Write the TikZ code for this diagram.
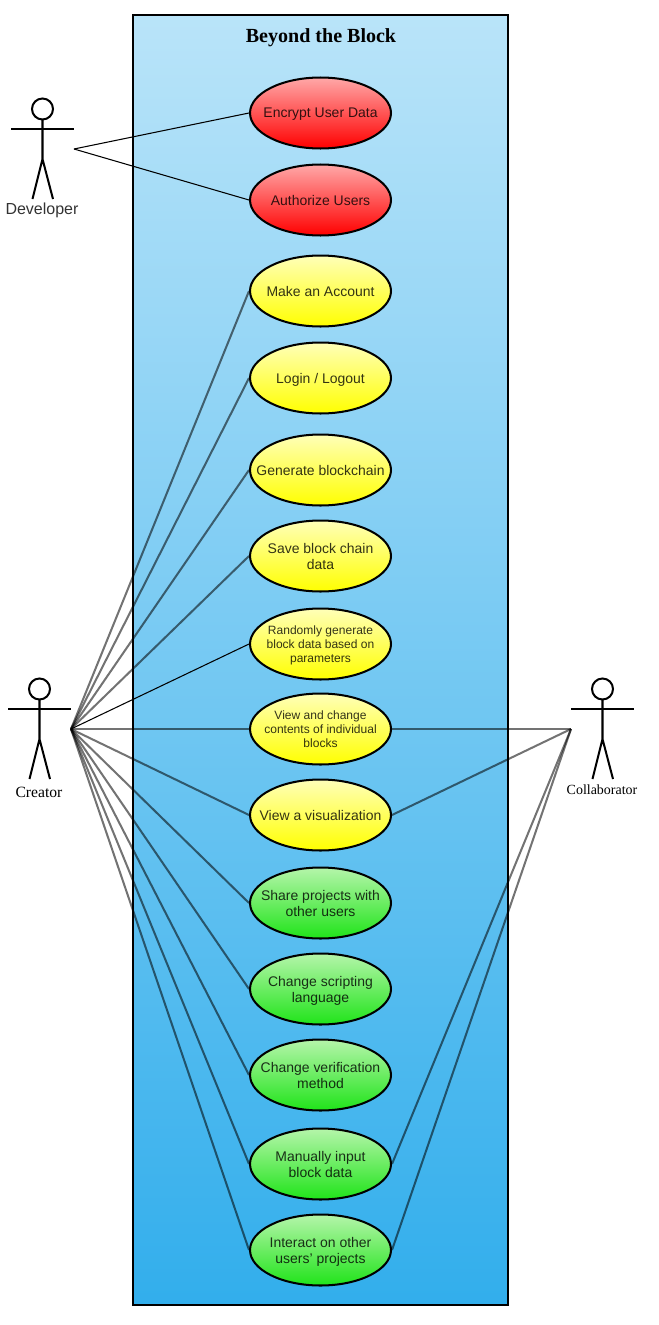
\documentclass[tikz,border=0pt]{standalone}
\usepackage{fontspec}
\setmainfont{Liberation Serif}
\setsansfont{Liberation Sans}
\usetikzlibrary{backgrounds,shapes.geometric}
\definecolor{boxtop}{HTML}{B9E4F9}
\definecolor{boxbottom}{HTML}{32AEEC}
\definecolor{greentop}{HTML}{B5F5AA}
\definecolor{greenbottom}{HTML}{20E41A}
\definecolor{redtop}{HTML}{FFA8A8}
\definecolor{yellowtop}{HTML}{FFFFB8}
\tikzset{
  usecase/.style={ellipse,draw=black,line width=1.15pt,minimum width=2.82cm,minimum height=1.42cm,
    inner sep=-1cm,text depth=0pt,align=center,text=black,text opacity=0.8,font=\sffamily\fontsize{7.95}{9.1}\selectfont},
  small/.style={font=\sffamily\fontsize{6.85}{8}\selectfont},
  redcase/.style={usecase,top color=redtop,bottom color=red},
  yellowcase/.style={usecase,top color=yellowtop,bottom color=yellow},
  greencase/.style={usecase,top color=greentop,bottom color=greenbottom},
  link/.style={line width=1.15pt,draw=black,opacity=0.55},
  thinlink/.style={line width=0.6pt,draw=black},
  actor/.pic={
    \draw[line width=1.15pt] (0,-20) circle (10.5);
    \draw[line width=1.15pt] (-31.5,0) -- (31.5,0);
    \draw[line width=1.15pt] (0,-9.5) -- (0,30) (-10,70) -- (0,30) -- (10.5,70);
  }
}
\begin{document}
\begin{tikzpicture}[x=0.02cm,y=-0.02cm]
\useasboundingbox (0,0) rectangle (659,1325);
% the system box
\node (title) [font=\bfseries\fontsize{11.4}{13}\selectfont] at (321,38) {Beyond the Block};
\begin{scope}[on background layer]
\node (system) [draw=black,line width=1.15pt,top color=boxtop,bottom color=boxbottom,
  minimum width=7.5cm,minimum height=25.8cm,inner sep=0pt] at (320.5,660) {};
\end{scope}
% use cases
\node (u1) [redcase] at (320.5,113) {Encrypt User Data};
\node (u2) [redcase] at (320.5,200) {Authorize Users};
\node (u3) [yellowcase] at (320.5,291) {Make an Account};
\node (u4) [yellowcase] at (320.5,378) {Login / Logout};
\node (u5) [yellowcase] at (320.5,470) {Generate blockchain};
\node (u6) [yellowcase] at (320.5,556) {Save block chain\\data};
\node (u7) [yellowcase,small] at (320.5,644) {Randomly generate\\block data based on\\parameters};
\node (u8) [yellowcase,small] at (320.5,729) {View and change\\contents of individual\\blocks};
\node (u9) [yellowcase] at (320.5,815) {View a visualization};
\node (u10) [greencase] at (320.5,903) {Share projects with\\other users};
\node (u11) [greencase] at (320.5,989) {Change scripting\\language};
\node (u12) [greencase] at (320.5,1075) {Change verification\\method};
\node (u13) [greencase] at (320.5,1164) {Manually input\\block data};
\node (u14) [greencase] at (320.5,1250) {Interact on other\\users' projects};
% actors
\pic at (42.5,129) {actor};
\pic at (39.5,709) {actor};
\pic at (602.5,709) {actor};
\node (developer) [font=\sffamily\fontsize{9.1}{10}\selectfont,text=black!80] at (42,210.5) {Developer};
\node (creator) [font=\fontsize{8.9}{10}\selectfont] at (39,792) {Creator};
\node (collaborator) [font=\fontsize{7.95}{9}\selectfont] at (602,790) {Collaborator};
\coordinate (devhand) at (74,149);
\coordinate (crehand) at (71,729);
\coordinate (colhand) at (571,729);
% connectors
\begin{scope}[on background layer]
\draw[thinlink] (devhand) -- (u1.west);
\draw[thinlink] (devhand) -- (u2.west);
\draw[thinlink] (crehand) -- (u7.west);
\foreach \n in {3,4,5,6,8,9,10,11,12,13,14}
  \draw[link] (crehand) -- (u\n.west);
\foreach \n in {8,9,13,14}
  \draw[link] (colhand) -- (u\n.east);
\end{scope}
\end{tikzpicture}
\end{document}
